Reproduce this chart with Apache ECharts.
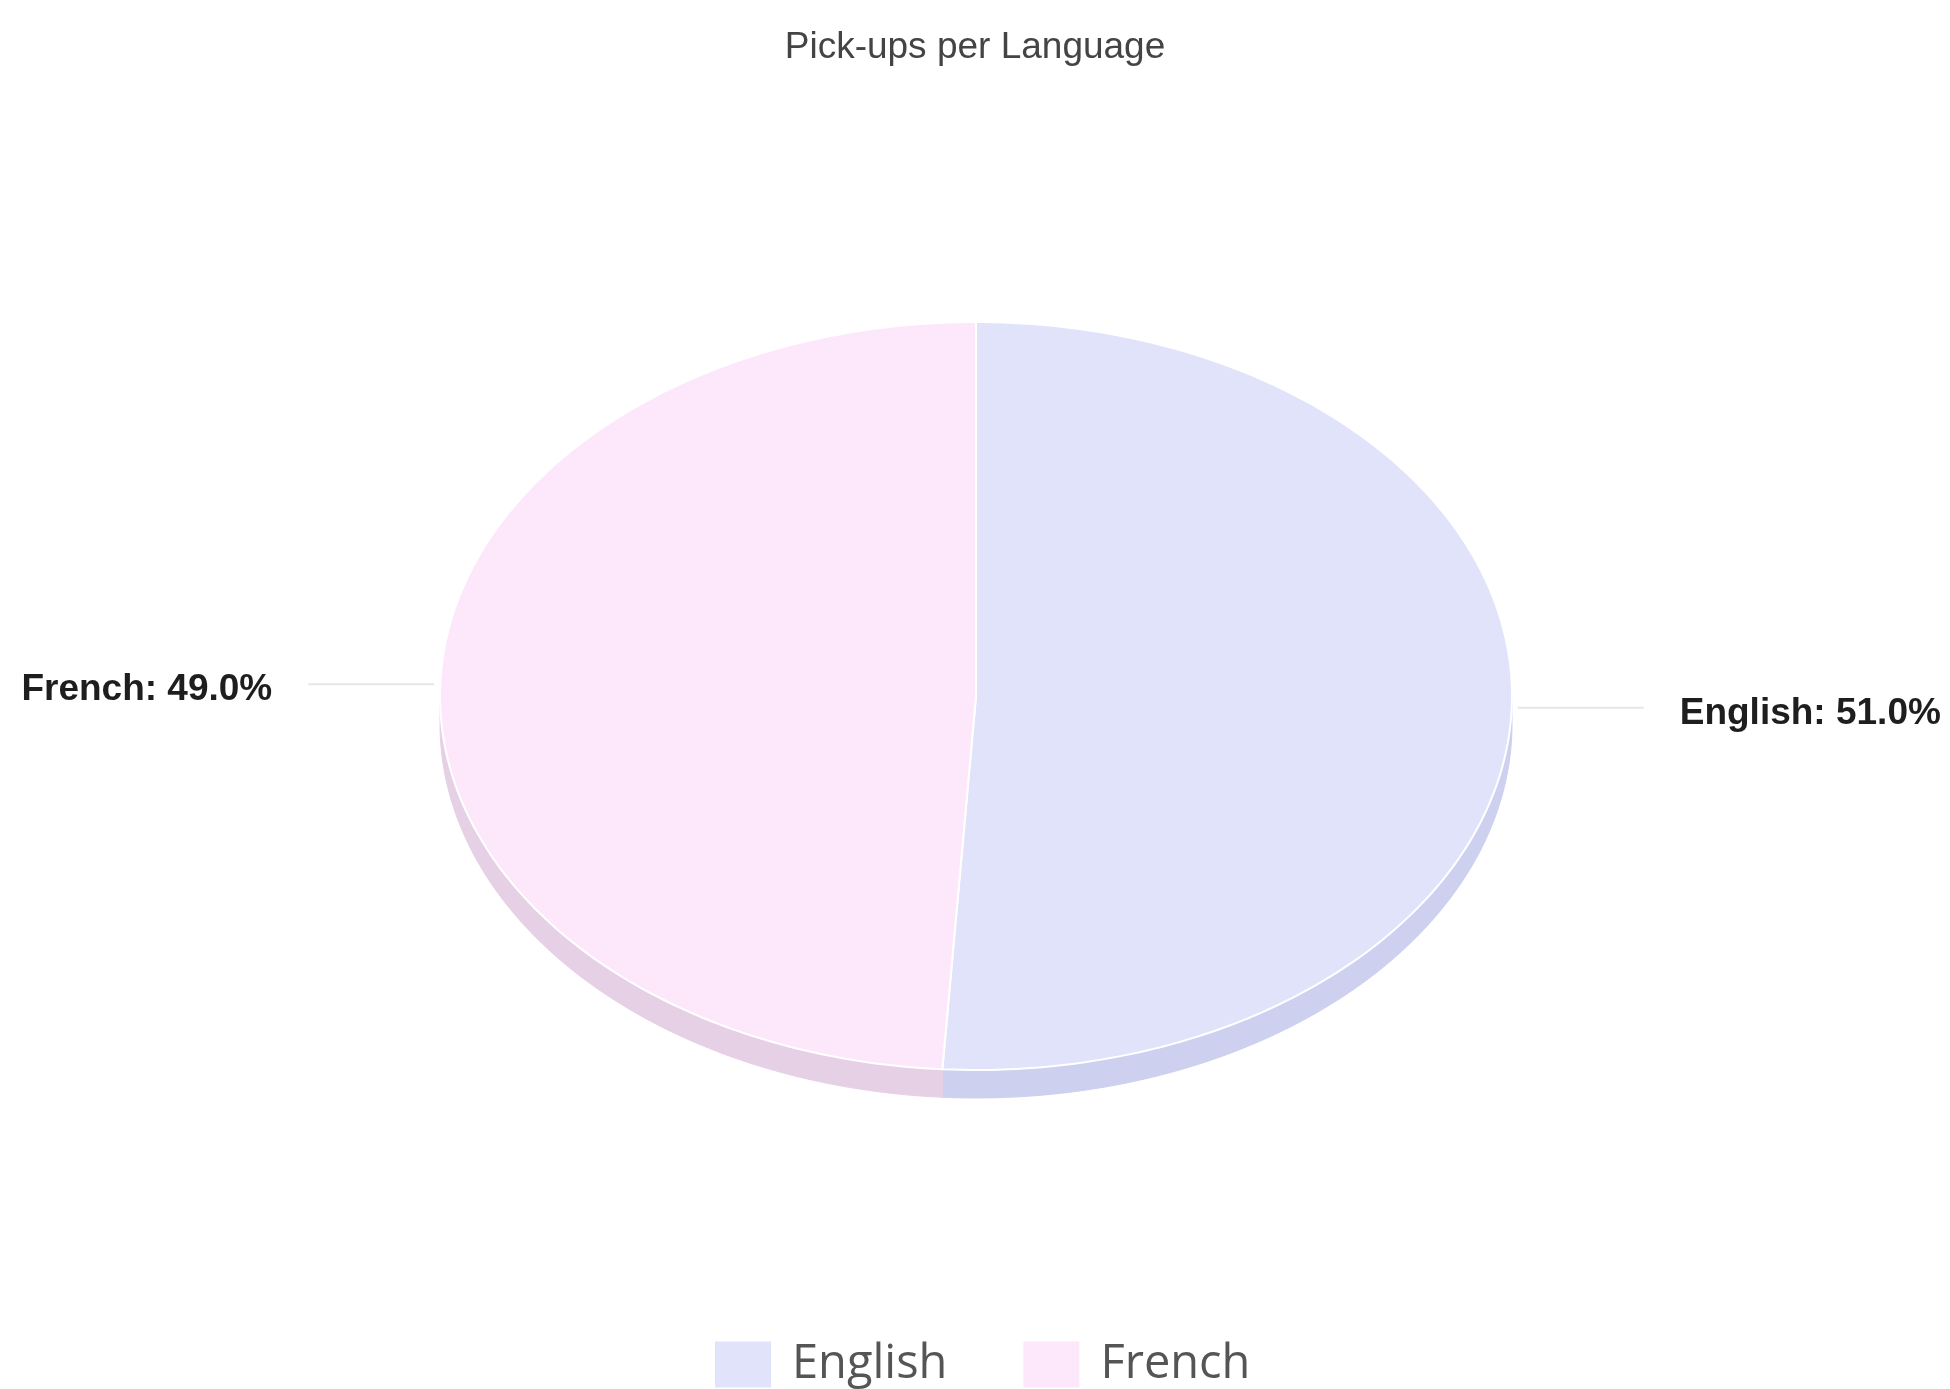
<!DOCTYPE html>
<html>
<head>
<meta charset="utf-8">
<title>Pick-ups per Language</title>
<script src="https://cdn.jsdelivr.net/npm/echarts@6/dist/echarts.min.js"></script>
<style>
  html, body { margin: 0; padding: 0; background: #ffffff; }
  #chart { width: 1950px; height: 1389px; }
</style>
</head>
<body>
<div id="chart"></div>
<script>
// ---- data ----
const chartTitle = 'Pick-ups per Language';
const categories = ['English', 'French'];
const shares = [51.0, 49.0];

// ---- style ----
const topColors = ['#e1e3fb', '#fde8fb'];
const sideColors = ['#cdd0ef', '#e6d0e6'];
const CX = 976, CY = 696, RX = 536, RY = 374, DEPTH = 28;

const total = shares.reduce((a, b) => a + b, 0);

function pt(theta, dy) {
  return [CX + RX * Math.sin(theta), CY - RY * Math.cos(theta) + (dy || 0)];
}
function arc(a0, a1, dy) {
  const pts = [];
  const n = Math.max(2, Math.ceil((a1 - a0) / (Math.PI / 180)));
  for (let k = 0; k <= n; k++) pts.push(pt(a0 + (a1 - a0) * k / n, dy));
  return pts;
}

function makeRenderItem(idx) {
  return function (params, api) {
    const value = api.value(0);
    let before = 0;
    for (let j = 0; j < idx; j++) before += shares[j];
    const a0 = before / total * 2 * Math.PI;
    const a1 = (before + value) / total * 2 * Math.PI;
    const children = [];

    // side wall (visible front half: PI/2 .. 3PI/2)
    const s0 = Math.max(a0, Math.PI / 2), s1 = Math.min(a1, 3 * Math.PI / 2);
    if (s1 > s0) {
      const topArc = arc(s0, s1, 0);
      const botArc = arc(s0, s1, DEPTH).reverse();
      children.push({
        type: 'polygon',
        shape: { points: topArc.concat(botArc) },
        style: { fill: sideColors[idx], stroke: sideColors[idx], lineWidth: 1 }
      });
    }
    // top face
    children.push({
      type: 'polygon',
      shape: { points: [[CX, CY]].concat(arc(a0, a1, 0)) },
      style: { fill: topColors[idx], stroke: '#ffffff', lineWidth: 2 }
    });

    // label with leader line
    const mid = (a0 + a1) / 2;
    const p = pt(mid, 0);
    const dir = Math.sin(mid) >= 0 ? 1 : -1;
    const lineEnd = [p[0] + dir * 132, p[1]];
    children.push({
      type: 'polyline',
      shape: { points: [[p[0] + dir * 6, p[1]], lineEnd] },
      style: { stroke: '#e6e6e6', lineWidth: 2, fill: null }
    });
    children.push({
      type: 'text',
      style: {
        text: categories[idx] + ': ' + value.toFixed(1) + '%',
        x: lineEnd[0] + dir * 36,
        y: p[1] + 6,
        align: dir > 0 ? 'left' : 'right',
        textAlign: dir > 0 ? 'left' : 'right',
        verticalAlign: 'middle',
        textVerticalAlign: 'middle',
        fill: '#1e1e1e',
        font: 'bold 37px "Liberation Sans", Arial, sans-serif'
      }
    });
    return { type: 'group', children: children };
  };
}

const chart = echarts.init(document.getElementById('chart'), null, { renderer: 'canvas' });
chart.setOption({
  animation: false,
  backgroundColor: '#ffffff',
  title: {
    text: chartTitle,
    left: 'center',
    top: 24,
    textStyle: {
      fontSize: 37,
      fontWeight: 'normal',
      color: '#444444',
      fontFamily: '"Liberation Sans", Arial, sans-serif'
    }
  },
  legend: {
    data: categories,
    left: 710,
    top: 1336,
    icon: 'rect',
    itemWidth: 56,
    itemHeight: 46,
    itemGap: 76,
    textStyle: {
      fontSize: 47,
      color: '#555555',
      fontFamily: '"Open Sans", sans-serif',
      padding: [0, 0, 0, 16]
    }
  },
  series: categories.map((name, i) => ({
    type: 'custom',
    name: name,
    coordinateSystem: 'none',
    itemStyle: { color: topColors[i] },
    data: [[shares[i]]],
    renderItem: makeRenderItem(i)
  }))
});
</script>
</body>
</html>
